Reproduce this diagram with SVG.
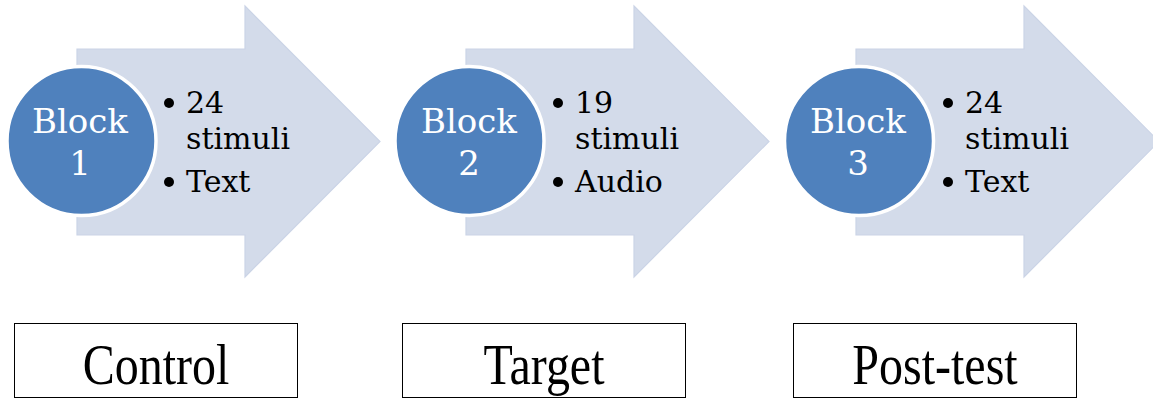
<svg xmlns="http://www.w3.org/2000/svg" width="1153" height="398" viewBox="0 0 1153 398">
<style>
.arrow{fill:#D3DBEA;stroke:#CBD4E6;stroke-width:1.2;stroke-linejoin:miter}
.circ{fill:#4F81BD;stroke:#FFFFFF;stroke-width:3.5}
.blk{font-family:"DejaVu Serif","Liberation Serif",serif;font-size:34px;fill:#FFFFFF;text-anchor:middle}
.item{font-family:"DejaVu Serif","Liberation Serif",serif;font-size:30px;fill:#000000}
.dot{fill:#000000}
.box{fill:#FFFFFF;stroke:#000000;stroke-width:1}
.lbl{font-family:"Liberation Serif","Times New Roman",serif;font-size:48px;fill:#000000;text-anchor:middle}
</style>
<defs>
<path id="arrowShape" d="M0,49 L168,49 L168,6 L303,141.5 L168,277 L168,235 L0,235 Z"/>
</defs>
<g id="connectors"></g>
<g id="block1">
<use href="#arrowShape" class="arrow" x="77" y="0"/>
<circle class="circ" cx="81.5" cy="141" r="74.5"/>
<text class="blk" x="80" y="133">Block</text>
<text class="blk" x="80" y="175">1</text>
<circle class="dot" cx="169" cy="103" r="5"/>
<text class="item" x="186" y="113">24</text>
<text class="item" x="186" y="149">stimuli</text>
<circle class="dot" cx="169" cy="182" r="5"/>
<text class="item" x="186" y="192">Text</text>
</g>
<g id="block2">
<use href="#arrowShape" class="arrow" x="466" y="0"/>
<circle class="circ" cx="469.5" cy="141" r="74.5"/>
<text class="blk" x="469" y="133">Block</text>
<text class="blk" x="469" y="175">2</text>
<circle class="dot" cx="558" cy="103" r="5"/>
<text class="item" x="575" y="113">19</text>
<text class="item" x="575" y="149">stimuli</text>
<circle class="dot" cx="558" cy="182" r="5"/>
<text class="item" x="575" y="192">Audio</text>
</g>
<g id="block3">
<use href="#arrowShape" class="arrow" x="856" y="0"/>
<circle class="circ" cx="859" cy="141" r="74.5"/>
<text class="blk" x="858" y="133">Block</text>
<text class="blk" x="858" y="175">3</text>
<circle class="dot" cx="948" cy="103" r="5"/>
<text class="item" x="965" y="113">24</text>
<text class="item" x="965" y="149">stimuli</text>
<circle class="dot" cx="948" cy="182" r="5"/>
<text class="item" x="965" y="192">Text</text>
</g>
<g id="control">
<rect class="box" x="14.5" y="323.5" width="283" height="74"/>
<text class="lbl" transform="translate(156,384) scale(1,1.2)">Control</text>
</g>
<g id="target">
<rect class="box" x="402.5" y="323.5" width="283" height="74"/>
<text class="lbl" transform="translate(544,384) scale(1,1.2)">Target</text>
</g>
<g id="posttest">
<rect class="box" x="793.5" y="323.5" width="283" height="74"/>
<text class="lbl" transform="translate(935,384) scale(1,1.2)">Post-test</text>
</g>
</svg>
